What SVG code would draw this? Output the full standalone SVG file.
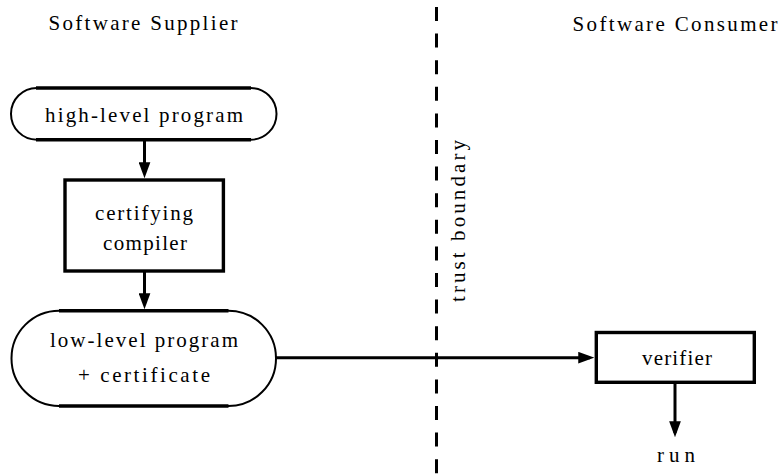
<svg xmlns="http://www.w3.org/2000/svg" width="780" height="474" viewBox="0 0 780 474">
<style>
text{font-family:"Liberation Serif",serif;font-size:21px;fill:#000;text-anchor:middle}
.arc{fill:#fff;stroke:#000;stroke-width:2}
.thick{stroke:#000;stroke-width:3.5;fill:none}
.box{fill:#fff;stroke:#000;stroke-width:3.4}
.conn{stroke:#000;stroke-width:3;fill:none}
.dash{stroke:#000;stroke-width:3;stroke-dasharray:14 12.6}
</style>
<defs>
<marker id="ah" markerUnits="userSpaceOnUse" markerWidth="16" markerHeight="12" viewBox="0 0 15 11" refX="11" refY="5.5" orient="auto">
<path d="M0,0 L15,5.5 L0,11 z" fill="#000"/>
</marker>
</defs>
<rect width="780" height="474" fill="#fff"/>
<text x="143" y="30" textLength="189" lengthAdjust="spacing">Software Supplier</text>
<text x="675" y="31" textLength="205" lengthAdjust="spacing">Software Consumer</text>
<line class="dash" x1="436.5" y1="7" x2="436.5" y2="474"/>
<text transform="translate(465,221) rotate(-90)" x="0" y="0" textLength="162" lengthAdjust="spacing">trust boundary</text>
<g id="connectors">
<line class="conn" x1="144.5" y1="140" x2="144.5" y2="174" marker-end="url(#ah)"/>
<line class="conn" x1="144.5" y1="271" x2="144.5" y2="305" marker-end="url(#ah)"/>
<line class="conn" x1="276" y1="357.7" x2="590" y2="357.7" marker-end="url(#ah)"/>
<line class="conn" x1="675" y1="382" x2="675" y2="433" marker-end="url(#ah)"/>
</g>
<g id="high">
<rect class="arc" x="11" y="88" width="265.5" height="51.7" rx="25.8" ry="25.8"/>
<line class="thick" x1="36" y1="88" x2="251" y2="88"/>
<line class="thick" x1="36" y1="139.7" x2="251" y2="139.7"/>
<text x="144" y="122" textLength="198" lengthAdjust="spacing">high-level program</text>
</g>
<g id="compiler">
<rect class="box" x="65" y="180" width="158.4" height="91"/>
<text x="144" y="220" textLength="98" lengthAdjust="spacing">certifying</text>
<text x="145" y="250" textLength="84" lengthAdjust="spacing">compiler</text>
</g>
<g id="low">
<rect class="arc" x="11.5" y="310.7" width="264.5" height="95.3" rx="47.6" ry="47.6"/>
<line class="thick" x1="59" y1="310.7" x2="228.5" y2="310.7"/>
<line class="thick" x1="59" y1="406" x2="228.5" y2="406"/>
<text x="144" y="347" textLength="188" lengthAdjust="spacing">low-level program</text>
<text x="144" y="382" textLength="132" lengthAdjust="spacing">+ certificate</text>
</g>
<g id="verifier">
<rect class="box" x="596.3" y="332.5" width="158" height="49.8"/>
<text x="677" y="365" textLength="70" lengthAdjust="spacing">verifier</text>
</g>
<g id="run">
<text x="676" y="462" textLength="38" lengthAdjust="spacing">run</text>
</g>
</svg>
